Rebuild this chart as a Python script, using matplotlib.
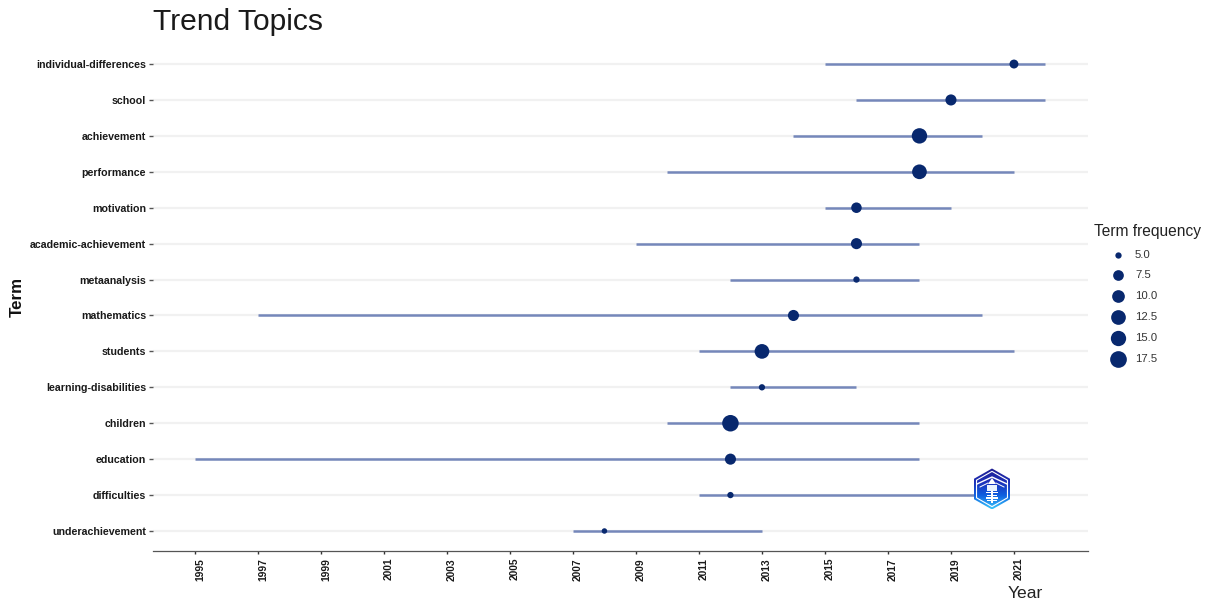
import numpy as np
import matplotlib
matplotlib.use("Agg")
import matplotlib.pyplot as plt
from matplotlib.patches import Polygon, Rectangle
from matplotlib.colors import LinearSegmentedColormap
from matplotlib.transforms import ScaledTranslation

terms = ["underachievement", "difficulties", "education", "children",
         "learning-disabilities", "students", "mathematics", "metaanalysis",
         "academic-achievement", "motivation", "performance", "achievement",
         "school", "individual-differences"]
year_q1 = [2007, 2011, 1995, 2010, 2012, 2011, 1997, 2012, 2009, 2015, 2010, 2014, 2016, 2015]
year_med = [2008, 2012, 2012, 2012, 2013, 2013, 2014, 2016, 2016, 2016, 2018, 2018, 2019, 2021]
year_q3 = [2013, 2020, 2018, 2018, 2016, 2021, 2020, 2018, 2018, 2019, 2021, 2020, 2022, 2022]
freq = [4.6, 5, 8, 17.2, 5, 12.5, 8, 5, 8, 7.4, 12.5, 15.2, 8, 6.5]
legend_freq = [5.0, 7.5, 10.0, 12.5, 15.0, 17.5]
legend_diam_px = [6.3, 10.7, 12.7, 14.7, 15.3, 16.7]
year_ticks = list(range(1995, 2023, 2))

W, H = 1207, 600
plt.rcParams["font.family"] = ["Liberation Sans", "DejaVu Sans"]
fig = plt.figure(figsize=(W / 100, H / 100), dpi=100)
ax = fig.add_axes([153 / W, 1 - 551 / H, (1088 - 153) / W, (551 - 45) / H])
NAVY = "#08286e"
LINE = "#7587ba"
GRID = "#f1f1f1"

def size_pt2(f):
    d_px = np.interp(f, legend_freq, legend_diam_px)
    if f < legend_freq[0]:
        d_px = 5.5
    return (d_px * 0.72) ** 2

y = np.arange(len(terms))
ax.set_xlim(1993.67, 2023.35)
ax.set_ylim(-0.557, 13.53)
ax.hlines(y, 1993.67, 2023.35, color=GRID, lw=1.6, zorder=1)
ax.hlines(y, year_q1, year_q3, color=LINE, lw=1.8, zorder=2)
ax.scatter(year_med, y, s=[size_pt2(f) for f in freq], color=NAVY, linewidths=0, zorder=3)

ax.set_yticks(y, terms, fontsize=7.65, fontweight="bold", color="#1a1a1a")
ax.set_xticks(year_ticks, [str(v) for v in year_ticks], rotation=90, fontsize=7.4,
              fontweight="bold", color="#1a1a1a")
ax.tick_params(axis="y", length=3, width=1.0, color="#555555", pad=2)
ax.tick_params(axis="x", length=2, width=1.0, color="#333333", pad=3)
shift = ScaledTranslation(5 / 100, 0, fig.dpi_scale_trans)
for lab in ax.get_xticklabels():
    lab.set_transform(lab.get_transform() + shift)
for s in ["top", "right", "left"]:
    ax.spines[s].set_visible(False)
ax.spines["bottom"].set_color("#555555")
ax.spines["bottom"].set_linewidth(0.9)

fig.text(153 / W, 1 - 30 / H, "Trend Topics", fontsize=21.6, color="#1a1a1a", ha="left", va="baseline")
fig.text(1008 / W, 1 - 598 / H, "Year", fontsize=12.6, color="#222222", ha="left", va="baseline")
fig.text(17 / W, 1 - 297 / H, "Term", fontsize=12.2, fontweight="bold", color="#111111",
         rotation=90, ha="center", va="center")

# legend, placed in figure pixels
fig.text(1094 / W, 1 - 236 / H, "Term frequency", fontsize=11.2, color="#222222", ha="left", va="baseline")
leg_y = [255, 275, 296, 317, 338, 359]
lax = fig.add_axes([0, 0, 1, 1], facecolor="none")
lax.set_xlim(0, W)
lax.set_ylim(H, 0)
lax.axis("off")
for f, d, yy in zip(legend_freq, legend_diam_px, leg_y):
    lax.scatter([1118], [yy], s=(d * 0.72) ** 2, color=NAVY, linewidths=0)
    lax.text(1135, yy, f"{f:.1f}", fontsize=8.2, color="#333333", ha="left", va="center")

# logo stamp over the plot
cx, cy, rx, ry = 992, 489, 18, 20.5
hex_pts = np.array([[cx, cy - ry], [cx + rx, cy - ry / 2], [cx + rx, cy + ry / 2],
                    [cx, cy + ry], [cx - rx, cy + ry / 2], [cx - rx, cy - ry / 2]])
cmap = LinearSegmentedColormap.from_list("logo", ["#1f1d90", "#1c2fb8", "#0f5fe0", "#38c4fa"])
grad = np.linspace(0, 1, 64).reshape(-1, 1)
im = lax.imshow(grad, extent=(cx - rx, cx + rx, cy + ry, cy - ry), cmap=cmap, aspect="auto", zorder=5)
clip = Polygon(hex_pts, closed=True, transform=lax.transData, facecolor="none", edgecolor="none")
lax.add_patch(clip)
im.set_clip_path(clip)
inner = hex_pts * 0.86 + np.array([cx, cy]) * 0.14
lax.add_patch(Polygon(inner, closed=True, facecolor="none", edgecolor="white", lw=0.8, zorder=7))
lax.plot([cx - 15, cx, cx + 15], [cy - 5, cy - 12, cy - 5], color="white", lw=1.0, zorder=7)
lax.plot([cx - 12, cx - 4], [cy - 2, cy - 6], color="white", lw=0.7, zorder=7)
lax.plot([cx + 12, cx + 4], [cy - 2, cy - 6], color="white", lw=0.7, zorder=7)
lax.add_patch(Polygon([[cx - 4, cy - 5], [cx, cy - 11], [cx + 4, cy - 5]], closed=True,
                      facecolor="white", edgecolor="none", zorder=8))
lax.add_patch(Rectangle((cx - 5, cy - 4), 10, 6, facecolor="#eaf3ff", edgecolor="none", zorder=8))
for i in range(4):
    lax.add_patch(Rectangle((cx - 6 + (i % 2), cy + 3 + i * 2.6), 12 - (i % 2) * 2, 1.4,
                            facecolor="white", edgecolor="none", zorder=8))
lax.add_patch(Rectangle((cx - 0.8, cy + 2), 1.6, 12, facecolor="white", edgecolor="none", zorder=8))
lax.set_xlim(0, W)
lax.set_ylim(H, 0)

fig.savefig("out.png", dpi=100, facecolor="white")
